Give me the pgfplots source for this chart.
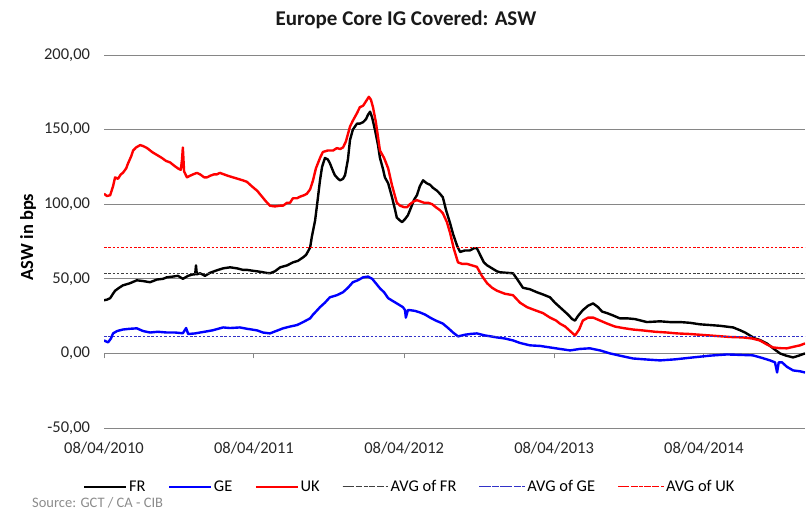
\documentclass[border=0pt]{standalone}
\usepackage{fontspec}
\setmainfont{Carlito}
\usepackage{pgfplots}
\pgfplotsset{compat=1.18}
\usepackage{pgfplotstable}

\definecolor{gridgray}{RGB}{134,134,134}
\definecolor{avgblue}{RGB}{50,50,200}
\definecolor{srcgray}{RGB}{140,140,140}

\pgfplotsset{
  dashleg/.style={legend image code/.code={%
    \draw[##1, dash pattern=on 4.3bp off 2.7bp] (0bp,0bp) -- (40bp,0bp);
    \path (0bp,0bp) -- (46bp,0bp);}},
}

% x = days since 08/04/2010
\pgfplotstableread{
d v
0 35.6
7 36
15 37
22 40
27 42
37 44
46 45.6
63 47
80 49
95 48.5
112 47.7
129 49.5
144 50
153 51
168 51.5
180 52
192 50
205 52
217 53
222 53
224 59
226 53
234 53.7
246 52
258 54
275 55.7
290 57
307 57.7
324 57
338 56
348 56
360 55.5
373 55
385 54.5
394 54
404 53.7
416 55
429 57.7
446 59
460 61
472 62
485 64.4
492 66
502 71
506 78
514 89
519 100
526 116
531 125
538 131
545 130
550 127.5
558 122
562 119.5
570 117
575 116
582 117
587 119.5
594 130
599 143
606 150
616 154
623 154
631 155
638 157
643 160
648 162
653 158
660 149.6
667 140
672 131
679 124
684 118
692 114
701 105
709 96
713 91
721 89
726 88
733 90
740 92.6
748 98
755 103
762 106
769 112
777 116
786 114
794 113
801 111
811 109
818 107
825 104.7
833 96
843 87
850 80
860 72
867 68
879 69
891 69
901 70.5
908 70.5
916 66
925 61
933 59
945 57
957 55
964 54.4
981 54
996 53.7
1008 49
1020 44
1037 43
1054 41
1069 39.5
1086 37.6
1098 34
1110 31
1118 29
1130 26
1140 23
1147 22
1154 25
1166 29
1179 32
1191 33.5
1203 31
1213 28
1225 27
1239 25.5
1256 23.5
1274 23.5
1293 23
1322 21
1354 21.5
1378 21
1403 21
1427 20.5
1451 19.5
1476 19
1500 18.5
1532 17.4
1549 15.5
1561 14
1573 12
1585 10
1597 9
1614 6.7
1629 3.5
1646 0
1661 -1.5
1678 -2.7
1692 -1.5
1707 0
}\frdata

\pgfplotstableread{
d v
0 8.7
5 8
10 7.4
17 10
22 13.4
32 15
46 16
63 16.5
80 16.8
95 15
112 14
131 14.5
153 14
173 14
192 13.5
200 17
205 13
222 13.4
234 14
251 14.8
265 15.5
278 16.5
290 17.4
307 17
331 17.4
348 16.5
360 16
373 15.4
387 14
404 13.4
419 15
436 16.8
453 18
470 19
485 21
502 23.5
509 26
516 28
526 31
538 34
550 37.6
567 39
582 41
594 44
606 47.7
618 49
631 51
643 51.5
653 50
662 47
672 43.6
682 41
692 37
704 35
713 33.5
728 31
733 29
735 24
740 29
745 29
757 28.5
769 27.5
782 26
794 24
808 22
825 20
838 17
850 14
862 11.4
879 12.5
891 13
908 13.4
928 12
940 11.5
957 10.7
976 10
996 8.7
1013 7
1037 5.4
1062 5
1086 4
1110 3
1135 2
1159 3
1183 3.4
1208 2
1232 0
1256 -1.5
1288 -3.4
1317 -4
1354 -4.7
1390 -4
1434 -2.7
1476 -1.5
1517 -0.7
1549 -1
1580 -1.3
1602 -3
1622 -4.7
1634 -6
1639 -12.8
1643 -6
1651 -6
1663 -9
1678 -11.4
1695 -12
1707 -12.8
}\gedata

\pgfplotstableread{
d v
0 107
7 105.5
15 106
22 112
27 118
34 117
41 120
46 121
54 124
58 127
66 132
71 136
78 138
88 139.6
95 139
105 137.6
117 135
129 133
141 131
151 129
161 128
170 126
180 124
187 123
190 130
192 138
195 122
202 118
209 119
217 120
226 121
234 120
244 118
251 118
258 119
268 120
275 120
282 121
292 120
302 119
314 118
326 117
338 116
348 115
360 112
373 109
385 105
394 102
404 99
416 98.5
429 99
436 99
446 101
453 101
460 104
470 104
477 105
487 106
494 107
502 110
509 116
516 124
526 131
533 135
545 136
558 136
567 137.6
575 137
582 138
589 142
599 152
606 156
616 161
623 165
631 166
638 169
645 172
650 170
655 165
662 155
672 136
682 131
692 124
701 113
709 105
713 101
721 99
731 98
738 98
745 100
755 102
762 102.7
769 102
779 101
789 101
799 100
808 98
818 96
825 94
835 88
843 80.5
852 70
862 61
872 60
884 60
896 59
908 58
920 52
933 47
945 44
957 42
976 40
996 39
1013 34
1030 31
1049 29
1069 27
1086 24
1101 22
1110 20
1123 18
1135 15
1147 12
1157 16
1166 22
1179 24
1191 24
1208 22
1225 20
1244 18
1264 17
1288 16
1312 15.4
1342 14.5
1371 14
1395 13.4
1427 13
1451 12.5
1476 12
1500 11.5
1524 11
1556 10.7
1578 10
1597 8.7
1614 6
1629 4
1646 3.5
1663 3.4
1680 4.5
1695 5.4
1707 6.7
}\ukdata

\begin{document}
\begin{tikzpicture}
\useasboundingbox (0,0) rectangle (808bp,512bp);
\begin{axis}[
  at={(104bp,84bp)}, anchor=south west,
  width=701bp, height=373bp, scale only axis,
  xmin=0, xmax=1707, ymin=-50, ymax=200,
  axis x line=middle, axis y line=left,
  x axis line style={-, draw=gridgray, line width=1bp},
  y axis line style={-, draw=none},
  hide obscured x ticks=false, hide obscured y ticks=false,
  xtick={0,365,731,1096,1461},
  xticklabels={08/04/2010,08/04/2011,08/04/2012,08/04/2013,08/04/2014},
  ytick={-50,0,50,100,150,200},
  ymajorgrids, grid style={draw=gridgray, line width=0.9bp},
  xtick align=outside,
  xtick style={draw=gridgray, line width=1bp},
  major tick length=5bp,
  ytick style={draw=none},
  xticklabel style={font=\fontsize{16.5bp}{19bp}\selectfont, text=black!85, yshift=-80bp},
  yticklabel style={font=\fontsize{16.5bp}{19bp}\selectfont, text=black!85, xshift=-8bp,
    /pgf/number format/fixed, /pgf/number format/fixed zerofill,
    /pgf/number format/precision=2, /pgf/number format/use comma,
    /pgf/number format/1000 sep={}, /pgf/number format/assume math mode=true},
  legend columns=6,
  legend style={at={(-0.03,-0.158)}, anchor=west, draw=none, fill=none,
    inner xsep=0bp, nodes={inner xsep=1.5bp}, font=\fontsize{16.4bp}{19bp}\selectfont,
    /tikz/every even column/.append style={column sep=21bp}},
  legend image code/.code={\draw[#1] (0bp,0bp) -- (42bp,0bp);},
]
\addplot[black, line width=2.4bp, line join=round] table[x=d,y=v] {\frdata};
\addlegendentry{FR}
\addplot[blue, line width=2.4bp, line join=round] table[x=d,y=v] {\gedata};
\addlegendentry{GE}
\addplot[red, line width=2.4bp, line join=round] table[x=d,y=v] {\ukdata};
\addlegendentry{UK}
\addplot[black!75, line width=1bp, dash pattern=on 2.5bp off 1.8bp, dashleg] coordinates {(0,53.7) (1707,53.7)};
\addlegendentry{AVG of FR}
\addplot[avgblue, line width=1bp, dash pattern=on 2.5bp off 1.8bp, dashleg] coordinates {(0,11.4) (1707,11.4)};
\addlegendentry{AVG of GE}
\addplot[red, line width=1bp, dash pattern=on 2.5bp off 1.8bp, dashleg] coordinates {(0,71) (1707,71)};
\addlegendentry{AVG of UK}
\end{axis}
\node[anchor=base, font=\bfseries\fontsize{21bp}{24bp}\selectfont, text=black!90] at (406bp,486bp) {Europe Core IG Covered: ASW};
\node[anchor=center, rotate=90, font=\bfseries\fontsize{18.5bp}{21bp}\selectfont] at (28bp,275bp) {ASW in bps};
\node[anchor=base west, font=\fontsize{14.5bp}{16bp}\selectfont, text=srcgray, inner sep=0pt] at (32bp,4.7bp) {Source: GCT / CA - CIB};
\end{tikzpicture}
\end{document}
